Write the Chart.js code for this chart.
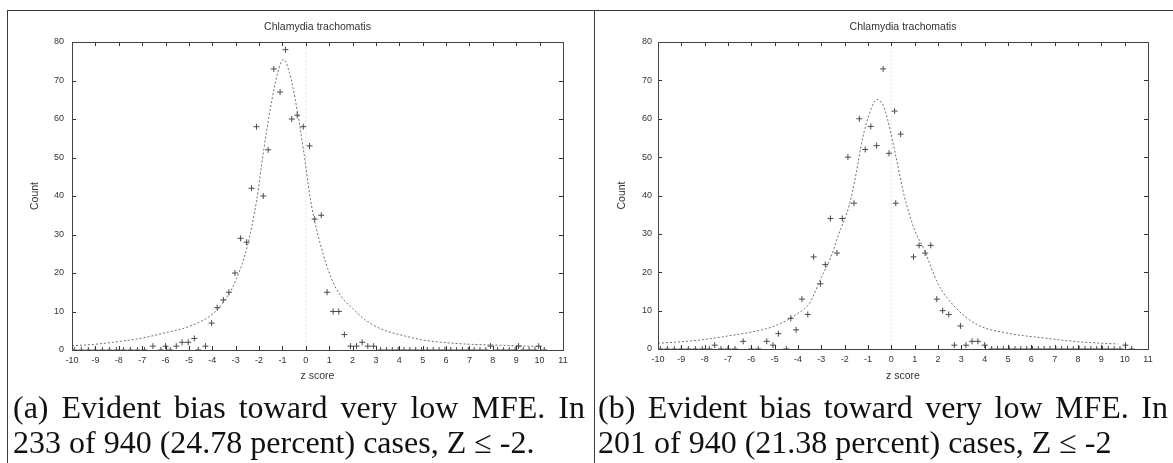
<!DOCTYPE html>
<html>
<head>
<meta charset="utf-8">
<script src="https://cdn.jsdelivr.net/npm/chart.js@4.4.1/dist/chart.umd.min.js"></script>
<style>
body { margin:0; background:#fff; width:1173px; height:463px; position:relative; overflow:hidden; }
.rule { position:absolute; background:#3a3a3a; }
canvas { position:absolute; top:0; }
.cap { position:absolute; font-family:"Liberation Serif", "Times New Roman", serif; font-size:32px; line-height:35px; color:#111; white-space:nowrap; }
.just { text-align:justify; text-align-last:justify; }
</style>
</head>
<body>
<div class="rule" style="left:7px; top:10px; width:1166px; height:1px;"></div>
<div class="rule" style="left:7px; top:10px; width:1px; height:453px;"></div>
<div class="rule" style="left:594px; top:10px; width:1px; height:453px;"></div>

<canvas id="chartA" width="594" height="390" style="left:0px;"></canvas>
<canvas id="chartB" width="579" height="390" style="left:594px;"></canvas>

<div class="cap just" style="left:13px; top:390px; width:572px;">(a) Evident bias toward very low MFE. In</div>
<div class="cap" style="left:13px; top:425px;">233 of 940 (24.78 percent) cases, Z &le; -2.</div>
<div class="cap just" style="left:598px; top:390px; width:570px;">(b) Evident bias toward very low MFE. In</div>
<div class="cap" style="left:598px; top:425px;">201 of 940 (21.38 percent) cases, Z &le; -2</div>

<script>
'use strict';

const chartTitle = 'Chlamydia trachomatis';
const xLabel = 'z score';
const yLabel = 'Count';
const zMin = -10, zMax = 11;
const countMin = 0, countMax = 80, countStep = 10;

// panel (a): observed counts
const zA = [-0.87, -1.37, -1.1, -0.6, -0.37, -0.11, 0.16, -2.11, -1.61, -2.32, -1.82, 0.38, 0.66,
  -2.79, -2.53, -3.03, -3.29, -3.53, -3.79, -4.03, 0.91, 1.17, 1.41, 1.65, -4.77, -5.29, -5.03,
  -5.54, -6.54, -4.29, -6.0, 1.91, 2.17, 2.41, 2.65, 2.9, 7.9, 9.1, 9.96];
const nA = [78, 73, 67, 60, 61, 58, 53, 58, 52, 42, 40, 34, 35,
  29, 28, 20, 15, 13, 11, 7, 15, 10, 10, 4, 3, 2, 2,
  1, 1, 1, 1, 1, 1, 2, 1, 1, 1, 1, 1];
const zeroZA = [-9.9, -9.6, -9.3, -9.0, -8.7, -8.4, -8.1, -7.8, -7.5, -7.2, -6.9, -6.2, -5.8, -4.6,
  3.2, 3.45, 3.7, 3.95, 4.2, 4.45, 4.7, 4.95, 5.2, 5.45, 5.7, 5.95, 6.2, 6.45, 6.7, 6.95, 7.2,
  7.45, 7.7, 8.2, 8.45, 8.7, 8.95, 9.3, 9.55, 9.8, 10.2];
// panel (a): fitted curve
const fitZA = [-10, -9, -8, -7, -6, -5, -4, -3.5, -3, -2.5, -2.1, -1.8, -1.45, -1.2, -0.95, -0.7,
  -0.45, -0.1, 0.2, 0.6, 1.1, 1.5, 2, 2.5, 3, 3.5, 4, 5, 6, 7, 8, 9, 10];
const fitNA = [1.1, 1.5, 2.2, 3.1, 4.5, 6.1, 9.3, 12.6, 18, 27, 39, 52, 65, 72, 75.5, 72,
  65, 52, 39, 28, 18.5, 14, 10.8, 8, 6.1, 4.8, 4, 2.6, 1.9, 1.5, 1.3, 1.1, 0.9];

// panel (b): observed counts
const zB = [-0.35, 0.14, 0.40, -0.1, -1.37, -0.88, -1.12, -0.63, -1.86, -1.6, -2.1, -2.61, -2.33,
  -2.83, -3.33, -3.04, -3.83, -4.31, -3.58, -4.08, -4.84, -5.34, -6.35, -7.57, -5.07, 0.19,
  0.95, 1.19, 1.69, 1.45, 1.95, 2.2, 2.46, 2.96, 2.7, 3.2, 3.46, 3.71, 4.0, 10.03];
const nB = [73, 62, 56, 51, 60, 58, 52, 53, 50, 38, 34, 34, 25,
  22, 24, 17, 13, 8, 9, 5, 4, 2, 2, 1, 1, 38,
  24, 27, 27, 25, 13, 10, 9, 6, 1, 1, 2, 2, 1, 1];
const zeroZB = [-9.9, -9.6, -9.3, -9.0, -8.7, -8.4, -8.1, -7.8, -7.3, -7.0, -6.7, -6.0, -5.7, -4.5,
  4.3, 4.55, 4.8, 5.05, 5.3, 5.55, 5.8, 6.05, 6.3, 6.55, 6.8, 7.05, 7.3, 7.55, 7.8, 8.05, 8.3,
  8.55, 8.8, 9.05, 9.3, 9.55, 9.8, 10.3];
// panel (b): fitted curve
const fitZB = [-10, -9, -8, -7, -6, -5, -4, -3.5, -3, -2.6, -2.25, -1.8, -1.5, -1.25, -0.9, -0.63,
  -0.35, -0.15, 0.2, 0.55, 1, 1.4, 2, 2.8, 3.7, 5, 6.5, 8, 9.7];
const fitNB = [1.5, 1.9, 2.5, 3.4, 4.4, 6, 9.3, 12, 18.7, 23.8, 30, 37.5, 46, 54.4, 62, 65,
  63.5, 59.6, 50, 40, 31, 26, 17, 10.5, 6.3, 4.1, 2.9, 1.9, 1.3];

// faint marker at z = 0
const refZ = [0, 0];
const refN = [0, 80];

function pairs(xs, ys) {
  return xs.map((x, i) => ({ x: x, y: ys[i] }));
}

const innerTicks = {
  id: 'innerTicks',
  afterDatasetsDraw(chart) {
    const ctx = chart.ctx;
    const a = chart.chartArea;
    const x = chart.scales.x;
    const y = chart.scales.y;
    ctx.save();
    ctx.strokeStyle = '#333';
    ctx.lineWidth = 1;
    ctx.beginPath();
    x.ticks.forEach(t => {
      const px = Math.round(x.getPixelForValue(t.value)) + 0.5;
      ctx.moveTo(px, a.bottom); ctx.lineTo(px, a.bottom - 4);
      ctx.moveTo(px, a.top); ctx.lineTo(px, a.top + 4);
    });
    y.ticks.forEach(t => {
      const py = Math.round(y.getPixelForValue(t.value)) + 0.5;
      ctx.moveTo(a.left, py); ctx.lineTo(a.left + 4, py);
      ctx.moveTo(a.right, py); ctx.lineTo(a.right - 4, py);
    });
    ctx.stroke();
    ctx.strokeStyle = '#444';
    ctx.strokeRect(Math.round(a.left) + 0.5, Math.round(a.top) + 0.5,
      Math.round(a.right - a.left), Math.round(a.bottom - a.top));
    ctx.restore();
  }
};

function makeChart(id, pts, zeros, fit, geo) {
  const ctx = document.getElementById(id).getContext('2d');
  return new Chart(ctx, {
    type: 'scatter',
    data: {
      datasets: [
        {
          data: pts,
          pointStyle: 'cross',
          pointRadius: 3,
          borderColor: '#4a4a4a',
          borderWidth: 1
        },
        {
          data: zeros,
          pointStyle: 'cross',
          pointRadius: 3,
          borderColor: '#4a4a4a',
          borderWidth: 1
        },
        {
          data: fit,
          showLine: true,
          pointRadius: 0,
          borderColor: '#6e6e6e',
          borderWidth: 1,
          borderDash: [2, 2],
          cubicInterpolationMode: 'monotone'
        },
        {
          data: pairs(refZ, refN),
          showLine: true,
          pointRadius: 0,
          borderColor: '#e4e4e4',
          borderWidth: 1,
          borderDash: [2, 2]
        }
      ]
    },
    options: {
      responsive: false,
      animation: false,
      events: [],
      layout: { padding: { left: 0, right: geo.padRight, top: 0, bottom: 0 } },
      plugins: {
        legend: { display: false },
        tooltip: { enabled: false },
        title: {
          display: true,
          text: chartTitle,
          fullSize: false,
          color: '#333',
          font: { family: 'Liberation Sans', size: 10.5, weight: 'normal' },
          padding: { top: 21, bottom: 8.4 }
        }
      },
      scales: {
        x: {
          type: 'linear',
          min: zMin,
          max: zMax,
          grid: { display: false, drawTicks: false },
          border: { display: false },
          ticks: {
            stepSize: 1,
            autoSkip: false,
            maxRotation: 0,
            padding: 5,
            color: '#333',
            font: { family: 'Liberation Sans', size: 9 }
          },
          title: {
            display: true,
            text: xLabel,
            color: '#333',
            font: { family: 'Liberation Sans', size: 10.5 },
            padding: { top: 0, bottom: 7.7 }
          },
          afterFit: s => { s.height = geo.xHeight; }
        },
        y: {
          type: 'linear',
          min: countMin,
          max: countMax,
          grid: { display: false, drawTicks: false },
          border: { display: false },
          ticks: {
            stepSize: countStep,
            padding: geo.yPad,
            color: '#333',
            font: { family: 'Liberation Sans', size: 9 }
          },
          title: {
            display: true,
            text: yLabel,
            color: '#333',
            font: { family: 'Liberation Sans', size: 10.5 },
            padding: { top: geo.yTitlePad, bottom: 0 }
          },
          afterFit: s => { s.width = geo.yWidth; }
        }
      }
    },
    plugins: [innerTicks]
  });
}

makeChart('chartA', pairs(zA, nA), pairs(zeroZA, zeroZA.map(() => 0)), pairs(fitZA, fitNA),
  { padRight: 31, xHeight: 40, yWidth: 72, yPad: 8, yTitlePad: 28.7 });
makeChart('chartB', pairs(zB, nB), pairs(zeroZB, zeroZB.map(() => 0)), pairs(fitZB, fitNB),
  { padRight: 25, xHeight: 41, yWidth: 64, yPad: 6, yTitlePad: 21.7 });
</script>
</body>
</html>
